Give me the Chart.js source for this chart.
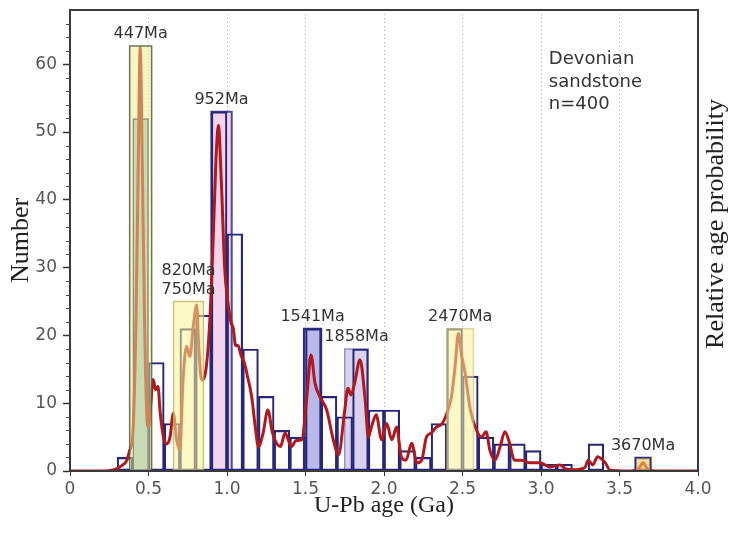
<!DOCTYPE html>
<html>
<head>
<meta charset="utf-8">
<script src="https://cdn.jsdelivr.net/npm/chart.js@4.4.1/dist/chart.umd.min.js"></script>
<style>
  html, body { margin: 0; padding: 0; background: #fff; }
  #wrap { width: 731px; height: 533px; }
</style>
</head>
<body>
<div id="wrap"><canvas id="chart"></canvas></div>
<script>
// histogram: 0.1 Ga bins
const binStart = [0.0, 0.1, 0.2, 0.3, 0.4, 0.5, 0.6, 0.7, 0.8, 0.9,
                  1.0, 1.1, 1.2, 1.3, 1.4, 1.5, 1.6, 1.7, 1.8, 1.9,
                  2.0, 2.1, 2.2, 2.3, 2.4, 2.5, 2.6, 2.7, 2.8, 2.9,
                  3.0, 3.1, 3.2, 3.3, 3.4, 3.5, 3.6, 3.7, 3.8, 3.9];
const binCount = [0, 0, 0, 2, 52, 16, 7, 21, 23, 53,
                  35, 18, 11, 6, 5, 21, 11, 8, 18, 9,
                  9, 3, 2, 7, 21, 14, 5, 4, 4, 3,
                  1, 1, 0, 4, 0, 0, 2, 0, 0, 0];

// relative age probability curve (scaled to Number axis)
const curveAge = [0.00, 0.20, 0.28, 0.33, 0.36, 0.38, 0.40, 0.42, 0.435, 0.447, 0.46, 0.475, 0.49, 0.50,
  0.515, 0.53, 0.545, 0.56, 0.575, 0.595, 0.615, 0.637, 0.658, 0.68, 0.70, 0.72, 0.743, 0.764, 0.785,
  0.807, 0.82, 0.838, 0.866, 0.89, 0.91, 0.93, 0.945, 0.965, 0.985, 1.005, 1.025, 1.04, 1.055, 1.07,
  1.09, 1.11, 1.13, 1.157, 1.18, 1.20, 1.23, 1.26, 1.29, 1.34, 1.37, 1.41, 1.44, 1.476, 1.507, 1.535,
  1.56, 1.59, 1.635, 1.677, 1.71, 1.75, 1.77, 1.79, 1.815, 1.847, 1.88, 1.90, 1.92, 1.95, 1.985,
  2.017, 2.05, 2.08, 2.11, 2.14, 2.176, 2.21, 2.24, 2.27, 2.30, 2.335, 2.37, 2.40, 2.43, 2.455, 2.473,
  2.495, 2.516, 2.55, 2.59, 2.62, 2.65, 2.675, 2.707, 2.74, 2.77, 2.80, 2.83, 2.877, 2.93, 2.99, 3.06,
  3.12, 3.16, 3.22, 3.28, 3.30, 3.33, 3.36, 3.41, 3.44, 3.55, 3.62, 3.65, 3.68, 3.75, 4.00];
const curveProb = [0, 0, 0.2, 0.8, 1.5, 3, 5.5, 22, 46, 62.5, 46, 22, 8, 6.5,
  10, 13.5, 12, 12.5, 8.5, 5, 4, 5, 8.5, 4.5, 3.1, 13.4, 18.4, 16.9, 21.3,
  24.5, 18.4, 13.4, 15, 22, 33, 46, 51, 42, 30, 25, 22, 21, 18.5, 18.5,
  17, 16, 14, 11, 6.5, 3.6, 5.6, 9, 5.6, 3.6, 5.6, 3.6, 4.5, 4.6, 10.5, 17.1,
  13, 11, 9, 4.6, 2.4, 9, 12.2, 11.2, 13.2, 16.4, 10.5, 5, 6.5, 8.3, 4.6,
  7, 4.6, 6.5, 2.1, 1.6, 4.1, 1.2, 1.6, 5, 5.6, 6.5, 7, 8.5, 11, 16, 20.3,
  17, 14.5, 9, 6, 5, 5.8, 3, 1.6, 3.6, 5.8, 4.1, 1.6, 1.6, 1.2, 1.2, 0.6,
  0.9, 0.3, 0.2, 0.5, 1.6, 0.9, 2.1, 1.2, 0.1, 0, 0.3, 1.2, 0.3, 0, 0];

// highlighted age peaks
const peakLabel = [['447Ma'], ['820Ma', '750Ma'], ['952Ma'], ['1541Ma'], ['1858Ma'], ['2470Ma'], ['3670Ma']];
const peakFrom  = [0.38, 0.66, 0.90, 1.49, 1.75, 2.40, 3.60];
const peakTo    = [0.52, 0.85, 1.03, 1.60, 1.90, 2.57, 3.70];
const peakTop   = [62.7, 25, 53, 21, 18, 21, 2];

const xTicks = [0, 0.5, 1.0, 1.5, 2.0, 2.5, 3.0, 3.5, 4.0];

// look of each peak box: [fill, outline, lineWidth, onTopOfCurve]
const peakStyle = [
  ['rgba(240,236,140,0.5)', 'rgba(80,95,50,0.85)', 1.5, true],
  ['rgba(252,244,150,0.55)', 'rgba(190,180,100,0.8)', 1.5, true],
  ['#f2d4ec', '#4b4b9b', 2, false],
  ['#b9b9ea', '#2d2d80', 2, false],
  ['#d9d2ee', '#9a93bf', 1.5, false],
  ['rgba(250,240,150,0.55)', 'rgba(200,190,110,0.6)', 1.5, true],
  ['rgba(245,200,90,0.6)', '#2d2d80', 1.5, true]
];

const peakSets = peakLabel.map((lab, i) => ({
  type: 'line',
  xAxisID: 'xl',
  data: [
    { x: peakFrom[i], y: 0 }, { x: peakFrom[i], y: peakTop[i] },
    { x: peakTo[i], y: peakTop[i] }, { x: peakTo[i], y: 0 }
  ],
  backgroundColor: peakStyle[i][0],
  borderColor: peakStyle[i][1],
  borderWidth: peakStyle[i][2],
  fill: 'origin',
  tension: 0,
  pointRadius: 0,
  order: peakStyle[i][3] ? 1 : 5
}));

const labelPlugin = {
  id: 'labels',
  afterDatasetsDraw(chart) {
    const { ctx, chartArea: a } = chart;
    const xs = chart.scales.xl, ys = chart.scales.y;
    ctx.save();
    ctx.strokeStyle = '#3a3a3a';
    ctx.lineWidth = 2;
    ctx.strokeRect(a.left, a.top, a.right - a.left, a.bottom - a.top);

    // minor ticks on Number axis
    ctx.lineWidth = 1;
    ctx.strokeStyle = '#444';
    for (let v = 2; v < 68; v += 2) {
      if (v % 10 === 0) continue;
      const py = Math.round(ys.getPixelForValue(v)) + 0.5;
      ctx.beginPath();
      ctx.moveTo(a.left - 4, py);
      ctx.lineTo(a.left, py);
      ctx.stroke();
    }

    ctx.fillStyle = '#333';
    ctx.font = '16px "DejaVu Sans"';
    ctx.textAlign = 'center';
    ctx.textBaseline = 'middle';
    peakLabel.forEach((lines, i) => {
      const px = xs.getPixelForValue((peakFrom[i] + peakTo[i]) / 2);
      let py = ys.getPixelForValue(peakTop[i]) - 12;
      for (let k = lines.length - 1; k >= 0; k--) {
        ctx.fillText(lines[k], px, py);
        py -= 19;
      }
    });

    ctx.font = '18px "DejaVu Sans"';
    ctx.textAlign = 'left';
    const tx = xs.getPixelForValue(3.05), ty = ys.getPixelForValue(60.7);
    ['Devonian', 'sandstone', 'n=400'].forEach((t, k) => ctx.fillText(t, tx, ty + k * 22.5));

    ctx.fillStyle = '#222';
    ctx.font = '26px "Liberation Serif"';
    ctx.textAlign = 'center';
    ctx.translate(716, 224);
    ctx.rotate(-Math.PI / 2);
    ctx.fillText('Relative age probability', 0, 0);
    ctx.restore();
  }
};

new Chart(document.getElementById('chart'), {
  type: 'bar',
  data: {
    labels: binStart.map(String),
    datasets: [
      {
        label: 'Number',
        data: binCount,
        xAxisID: 'x',
        backgroundColor: binStart.map(b => b === 0.4 ? '#9ec9d6' : 'rgba(0,0,0,0)'),
        borderColor: '#27277a',
        borderWidth: 1.5,
        borderSkipped: false,
        barPercentage: 1,
        categoryPercentage: 1,
        grouped: false,
        order: 3
      },
      {
        type: 'line',
        label: 'Relative age probability',
        xAxisID: 'xl',
        data: curveAge.map((a, i) => ({ x: a, y: curveProb[i] })),
        borderColor: '#b01a1f',
        borderWidth: 3,
        pointRadius: 0,
        fill: false,
        cubicInterpolationMode: 'monotone',
        order: 2
      },
      ...peakSets
    ]
  },
  options: {
    responsive: true,
    maintainAspectRatio: false,
    animation: false,
    events: [],
    layout: { padding: { top: 10, right: 33, left: 0, bottom: 0 } },
    plugins: { legend: { display: false }, tooltip: { enabled: false } },
    scales: {
      x: { display: false, offset: true },
      xl: {
        type: 'linear',
        axis: 'x',
        position: 'bottom',
        offset: false,
        min: 0,
        max: 4,
        afterBuildTicks: s => { s.ticks = xTicks.map(v => ({ value: v })); },
        afterFit: s => { s.height = 62; s.paddingLeft = 0; s.paddingRight = 0; },
        ticks: {
          color: '#555',
          font: { family: 'DejaVu Sans', size: 17 },
          padding: 3,
          maxRotation: 0,
          callback: v => v === 0 ? '0' : v.toFixed(1)
        },
        grid: {
          offset: false,
          color: c => (c.tick && (c.tick.value === 0 || c.tick.value === 4)) ? 'rgba(0,0,0,0)' : '#b5b5b5',
          lineWidth: 1,
          tickLength: 5,
          tickColor: '#333'
        },
        border: { color: '#3a3a3a', width: 2, dash: [1, 3] },
        title: {
          display: true,
          text: 'U-Pb age (Ga)',
          color: '#222',
          font: { family: 'Liberation Serif', size: 24 },
          padding: { top: 0, bottom: 13 }
        }
      },
      y: {
        min: 0,
        max: 68,
        afterFit: s => { s.width = 70; s.paddingTop = 0; s.paddingBottom = 0; },
        ticks: {
          stepSize: 10,
          includeBounds: false,
          color: '#555',
          font: { family: 'DejaVu Sans', size: 17 },
          padding: 6
        },
        grid: { drawOnChartArea: false, tickLength: 7, tickColor: '#333', tickWidth: 1.5 },
        border: { color: '#3a3a3a', width: 2 },
        title: {
          display: true,
          text: 'Number',
          color: '#222',
          font: { family: 'Liberation Serif', size: 26 },
          padding: { top: 6, bottom: 0 }
        }
      }
    }
  },
  plugins: [labelPlugin]
});
</script>
</body>
</html>
